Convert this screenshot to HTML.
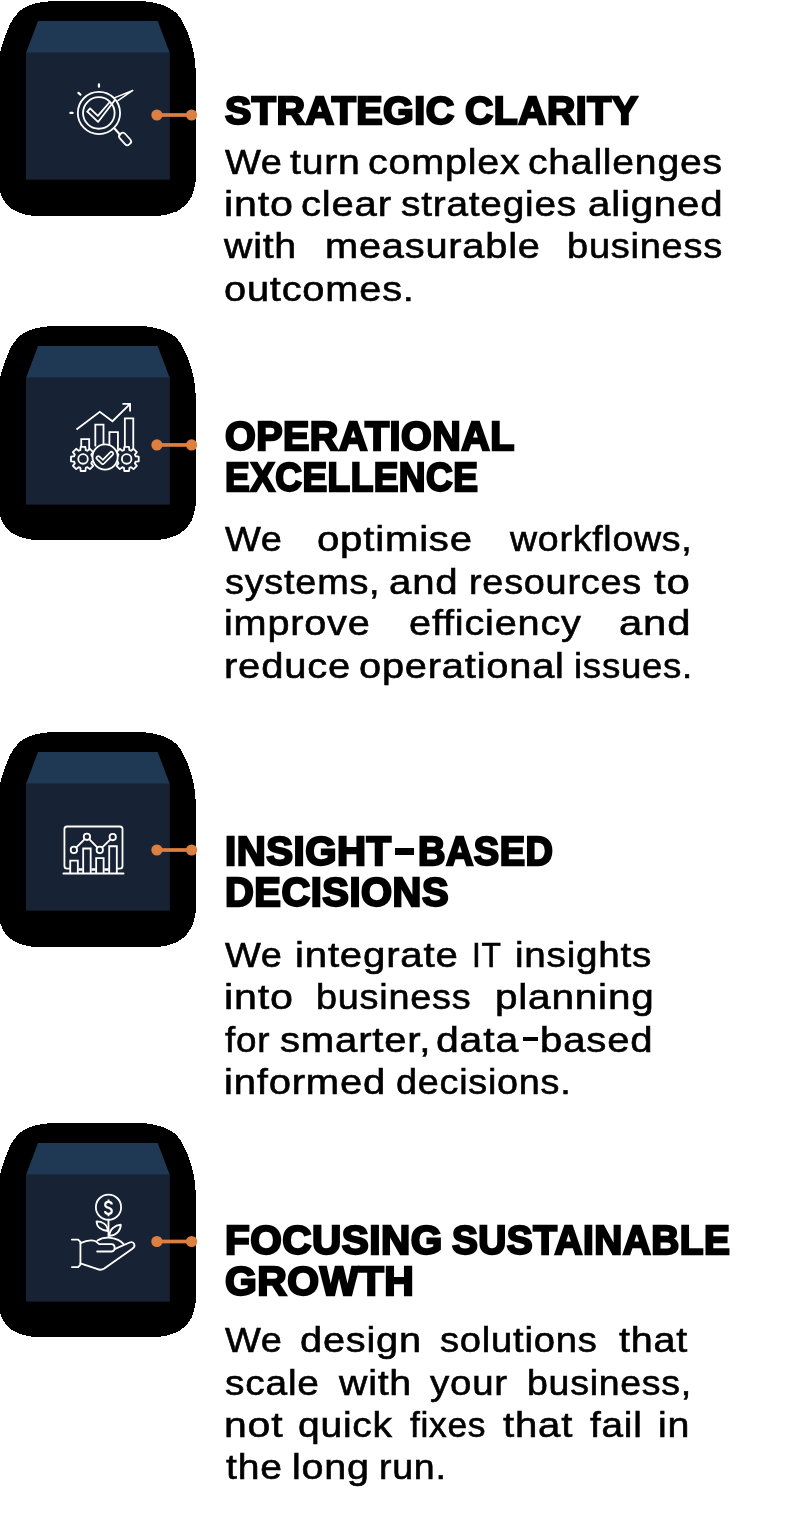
<!DOCTYPE html>
<html><head><meta charset="utf-8"><title>Pillars</title>
<style>
html,body{margin:0;padding:0;background:#fff;}
body{width:792px;height:1513px;position:relative;overflow:hidden;font-family:"Liberation Sans",sans-serif;}
svg.g{position:absolute;left:0;top:0;}

.t{position:absolute;white-space:nowrap;transform-origin:0 0;color:#000;font-family:"Liberation Sans",sans-serif;}
.b{font-size:35.0px;line-height:35.0px;letter-spacing:0.7px;-webkit-text-stroke:0.6px #000;}
.h,.g{font-size:39.5px;line-height:39.5px;font-weight:700;letter-spacing:0.5px;-webkit-text-stroke:2.3px #000;}
.g{font-size:40.3px;line-height:40.3px;}

</style></head><body>
<svg class="g" width="792" height="1513" viewBox="0 0 792 1513">
<defs>
<g id="blk">
<polygon fill="#000" shape-rendering="crispEdges" points="142.1,1 152.2,2.4 162.7,5 169.9,8.5 176.4,12.9 180.4,18.2 183.7,24.2 186.9,30.7 189.3,37.2 191.8,45.3 193.8,53.3 195,61.4 196,75 196.2,100 196.2,178 194.6,186.8 192.1,195.7 185.8,205.1 176.9,211.4 166.8,214.6 159.2,215.9 34.1,216 27.8,215.1 22.7,213.9 17,211.7 13.3,209.8 9.5,207.2 6.3,204.1 4.1,200.9 1.9,196.5 0,191.8 -1.5,186 -3,178 -3.2,100 -3,75 -1.3,61.4 0.7,50.1 2.7,43.6 4.7,37.2 7.2,31.1 9.6,25.1 12.8,19.4 16.9,14.1 20.9,10.1 27.4,6.1 34.6,3.6 42.7,2 53,1"/>
</g>
<g id="box">
<polygon fill="#1f3854" points="38,21 157.7,21 169.8,53 26,53"/>
<rect fill="#172335" x="26" y="52.5" width="143.8" height="127.2"/>
</g>
<g id="conn" fill="#dd7f3e">
<rect x="156.9" y="-1.85" width="34.7" height="3.7"/>
<circle cx="156.9" cy="0" r="5.6"/>
<circle cx="191.6" cy="0" r="5.6"/>
</g>
</defs>
<use href="#blk"/><use href="#box"/><use href="#conn" y="115"/>
<g transform="translate(0,325.9) scale(1,0.9955) translate(0,-1)"><use href="#blk"/></g><use href="#box" y="324.9"/><use href="#conn" y="444.95"/>
<use href="#blk" y="730.9"/><use href="#box" y="730.9"/><use href="#conn" y="850"/>
<g transform="translate(0,1122.9) scale(1,0.9955) translate(0,-1)"><use href="#blk"/></g><use href="#box" y="1121.9"/><use href="#conn" y="1241.5"/>
<g fill="none" stroke="#fff" stroke-linecap="round" stroke-linejoin="round">
<g transform="translate(56,70) scale(0.113636)" stroke-width="16">
<circle cx="378" cy="378" r="186"/>
<circle cx="377" cy="378" r="139"/>
<path d="M276,366 L300,338 L368,403 L468,288"/>
<path d="M276,366 L370,457 L520,262"/>
<path d="M518,243 L676,180 L545,270" stroke-width="13"/>
<path d="M127,378 L146,378 M197,202 L215,216 M378,127 L378,147" stroke-width="20"/>
<path d="M515,515 L562,568" stroke-width="18"/>
<rect x="-31" y="-60" width="62" height="120" rx="26" transform="translate(608,607) rotate(-42)"/>
</g>
<g transform="translate(56,390) scale(0.113636)" stroke-width="16">
<path d="M180,348 L385,192 L497,275 L650,125 M585,122 L652,122 L652,190" stroke-linecap="butt" stroke-linejoin="miter"/>
<path d="M222,505 V432 H292 V520 M346,490 V305 H418 V480 M470,500 V370 H545 V520 M606,520 V250 H680 V520" stroke-linejoin="miter"/>
<path d="M262.0,528.6 L258.6,501.0 L217.4,501.0 L214.0,528.6 L199.5,534.6 L177.6,517.5 L148.5,546.6 L165.6,568.5 L159.6,583.0 L132.0,586.4 L132.0,627.6 L159.6,631.0 L165.6,645.5 L148.5,667.4 L177.6,696.5 L199.5,679.4 L214.0,685.4 L217.4,713.0 L258.6,713.0 L262.0,685.4 L276.5,679.4 L298.4,696.5 L327.5,667.4 L310.4,645.5 L316.4,631.0 L344.0,627.6 L344.0,586.4 L316.4,583.0 L310.4,568.5 L327.5,546.6 L298.4,517.5 L276.5,534.6 Z" fill="#172335"/>
<path d="M646.0,528.6 L642.6,501.0 L601.4,501.0 L598.0,528.6 L583.5,534.6 L561.6,517.5 L532.5,546.6 L549.6,568.5 L543.6,583.0 L516.0,586.4 L516.0,627.6 L543.6,631.0 L549.6,645.5 L532.5,667.4 L561.6,696.5 L583.5,679.4 L598.0,685.4 L601.4,713.0 L642.6,713.0 L646.0,685.4 L660.5,679.4 L682.4,696.5 L711.5,667.4 L694.4,645.5 L700.4,631.0 L728.0,627.6 L728.0,586.4 L700.4,583.0 L694.4,568.5 L711.5,546.6 L682.4,517.5 L660.5,534.6 Z" fill="#172335"/>
<circle cx="238" cy="607" r="42"/>
<circle cx="622" cy="607" r="42"/>
<circle cx="432" cy="590" r="111" fill="#172335"/>
<path d="M372,598 L412,636 L488,560" stroke-width="46"/>
<path d="M372,598 L412,636 L488,560" stroke-width="16" stroke="#172335"/>
</g>
<g transform="translate(50,805) scale(0.113636)" stroke-width="16">
<path d="M172,560 H150 Q127,560 127,537 V212 Q127,189 150,189 H615 Q638,189 638,212 V537 Q638,560 615,560 H595"/>
<path d="M250,567 H287 M365,567 H402 M478,567 H517" stroke-width="22" stroke-linecap="butt"/>
<path d="M118,603 H647"/>
<path d="M178,600 V490 H245 V600 M292,600 V383 H358 V600 M406,600 V467 H472 V600 M521,600 V363 H588 V600" stroke-linejoin="miter"/>
<path d="M232,373 L303,302 M347,302 L416,373 M460,373 L530,304"/>
<circle cx="210" cy="395" r="28"/><circle cx="325" cy="280" r="28"/><circle cx="438" cy="395" r="28"/><circle cx="552" cy="282" r="28"/>
</g>
<g transform="translate(56,1185) scale(0.113636)" stroke-width="16">
<circle cx="462" cy="195" r="111"/>
<path d="M462,306 V455"/>
<path d="M455,405 C400,400 357,370 357,320 C405,320 455,345 455,405 Z"/>
<path d="M470,448 C470,390 520,352 570,350 C570,400 530,445 470,448 Z"/>
<path d="M140,480 H195 L215,500 V700 L195,722 H140"/>
<path d="M215,512 C270,485 310,478 350,495 L380,520 H490 C525,522 525,583 490,585 H362"/>
<path d="M365,488 C420,450 540,455 595,520"/>
<path d="M520,562 L648,506 C690,492 705,540 672,560 L425,735 C405,748 380,748 360,738 L215,690"/>
<path d="M491,172 C489,140 433,141 433,175 C433,208 491,194 491,228 C491,262 433,262 431,230" stroke-width="19" stroke-linecap="butt"/><path d="M462,128 V150 M462,252 V274" stroke-width="17" stroke-linecap="butt"/>
</g>
</g>

</svg>
<div id="tx" style="position:absolute;left:0;top:0;width:792px;height:1513px;will-change:transform">
<div class="t h" style="left:224.75px;top:90.79px;transform:scaleX(1.0003)">STRATEGIC</div>
<div class="t h" style="left:464.50px;top:90.79px;transform:scaleX(0.9925)">CLARITY</div>
<div class="t b" style="left:225.06px;top:143.85px;transform:scaleX(1.0836)">We</div>
<div class="t b" style="left:289.64px;top:143.85px;transform:scaleX(1.1188)">turn</div>
<div class="t b" style="left:368.32px;top:143.85px;transform:scaleX(1.1281)">complex</div>
<div class="t b" style="left:528.03px;top:143.85px;transform:scaleX(1.1173)">challenges</div>
<div class="t b" style="left:223.66px;top:186.05px;transform:scaleX(1.1765)">into</div>
<div class="t b" style="left:301.01px;top:186.05px;transform:scaleX(1.1441)">clear</div>
<div class="t b" style="left:401.44px;top:186.05px;transform:scaleX(1.1084)">strategies</div>
<div class="t b" style="left:587.70px;top:186.05px;transform:scaleX(1.1487)">aligned</div>
<div class="t b" style="left:224.22px;top:228.35px;transform:scaleX(1.1218)">with</div>
<div class="t b" style="left:324.53px;top:228.35px;transform:scaleX(1.1361)">measurable</div>
<div class="t b" style="left:567.08px;top:228.35px;transform:scaleX(1.0852)">business</div>
<div class="t b" style="left:223.81px;top:270.55px;transform:scaleX(1.1365)">outcomes.</div>
<div class="t g" style="left:224.94px;top:416.78px;transform:scaleX(0.9800)">OPERATIONAL</div>
<div class="t g" style="left:224.75px;top:458.08px;transform:scaleX(0.9182)">EXCELLENCE</div>
<div class="t b" style="left:225.06px;top:520.85px;transform:scaleX(1.0836)">We</div>
<div class="t b" style="left:317.40px;top:520.85px;transform:scaleX(1.1464)">optimise</div>
<div class="t b" style="left:509.90px;top:520.85px;transform:scaleX(1.0710)">workflows,</div>
<div class="t b" style="left:225.16px;top:563.75px;transform:scaleX(1.0815)">systems,</div>
<div class="t b" style="left:389.00px;top:563.75px;transform:scaleX(1.1487)">and</div>
<div class="t b" style="left:469.14px;top:563.75px;transform:scaleX(1.0806)">resources</div>
<div class="t b" style="left:654.15px;top:563.75px;transform:scaleX(1.1953)">to</div>
<div class="t b" style="left:224.44px;top:605.25px;transform:scaleX(1.1324)">improve</div>
<div class="t b" style="left:409.31px;top:605.25px;transform:scaleX(1.1346)">efficiency</div>
<div class="t b" style="left:619.46px;top:605.25px;transform:scaleX(1.1960)">and</div>
<div class="t b" style="left:223.72px;top:648.05px;transform:scaleX(1.1430)">reduce</div>
<div class="t b" style="left:359.41px;top:648.05px;transform:scaleX(1.1373)">operational</div>
<div class="t b" style="left:573.91px;top:648.05px;transform:scaleX(1.0455)">issues.</div>
<div class="t g" style="left:225.03px;top:831.58px;transform:scaleX(0.9985)">INSIGHT</div>
<div class="t g" style="left:417.51px;top:831.58px;transform:scaleX(0.9431)">BASED</div>
<div class="t g" style="left:225.04px;top:872.58px;transform:scaleX(0.9905)">DECISIONS</div>
<div class="t b" style="left:225.06px;top:937.05px;transform:scaleX(1.0836)">We</div>
<div class="t b" style="left:294.91px;top:937.05px;transform:scaleX(1.1481)">integrate</div>
<div class="t b" style="left:472.43px;top:937.05px;transform:scaleX(0.9081)">IT</div>
<div class="t b" style="left:515.40px;top:937.05px;transform:scaleX(1.1040)">insights</div>
<div class="t b" style="left:223.66px;top:979.45px;transform:scaleX(1.1765)">into</div>
<div class="t b" style="left:315.79px;top:979.45px;transform:scaleX(1.0809)">business</div>
<div class="t b" style="left:494.65px;top:979.45px;transform:scaleX(1.1564)">planning</div>
<div class="t b" style="left:224.95px;top:1021.85px;transform:scaleX(1.0505)">for</div>
<div class="t b" style="left:279.92px;top:1021.85px;transform:scaleX(1.1455)">smarter,</div>
<div class="t b" style="left:435.88px;top:1021.85px;transform:scaleX(1.1705)">data</div>
<div class="t b" style="left:539.86px;top:1021.85px;transform:scaleX(1.1469)">based</div>
<div class="t b" style="left:224.42px;top:1064.25px;transform:scaleX(1.1430)">informed</div>
<div class="t b" style="left:396.27px;top:1064.25px;transform:scaleX(1.0789)">decisions.</div>
<div class="t g" style="left:225.22px;top:1221.08px;transform:scaleX(1.0052)">FOCUSING</div>
<div class="t g" style="left:451.91px;top:1221.08px;transform:scaleX(0.9628)">SUSTAINABLE</div>
<div class="t g" style="left:224.92px;top:1262.28px;transform:scaleX(1.0149)">GROWTH</div>
<div class="t b" style="left:225.06px;top:1322.15px;transform:scaleX(1.0836)">We</div>
<div class="t b" style="left:300.32px;top:1322.15px;transform:scaleX(1.1353)">design</div>
<div class="t b" style="left:439.86px;top:1322.15px;transform:scaleX(1.0906)">solutions</div>
<div class="t b" style="left:618.94px;top:1322.15px;transform:scaleX(1.1303)">that</div>
<div class="t b" style="left:225.14px;top:1365.05px;transform:scaleX(1.1117)">scale</div>
<div class="t b" style="left:339.12px;top:1365.05px;transform:scaleX(1.1218)">with</div>
<div class="t b" style="left:430.29px;top:1365.05px;transform:scaleX(1.0982)">your</div>
<div class="t b" style="left:527.31px;top:1365.05px;transform:scaleX(1.0700)">business,</div>
<div class="t b" style="left:223.67px;top:1406.75px;transform:scaleX(1.1697)">not</div>
<div class="t b" style="left:297.74px;top:1406.75px;transform:scaleX(1.1130)">quick</div>
<div class="t b" style="left:410.44px;top:1406.75px;transform:scaleX(1.0106)">fixes</div>
<div class="t b" style="left:503.04px;top:1406.75px;transform:scaleX(1.1467)">that</div>
<div class="t b" style="left:590.45px;top:1406.75px;transform:scaleX(1.1063)">fail</div>
<div class="t b" style="left:658.46px;top:1406.75px;transform:scaleX(1.1248)">in</div>
<div class="t b" style="left:225.94px;top:1449.35px;transform:scaleX(1.1160)">the</div>
<div class="t b" style="left:291.75px;top:1449.35px;transform:scaleX(1.1276)">long</div>
<div class="t b" style="left:378.86px;top:1449.35px;transform:scaleX(1.0720)">run.</div>
<div style="position:absolute;background:#000;left:395.1px;top:848.0px;width:19.1px;height:6.8px"></div>
<div style="position:absolute;background:#000;left:523.0px;top:1037.0px;width:15.0px;height:4.1px"></div>
</div>
</body></html>
